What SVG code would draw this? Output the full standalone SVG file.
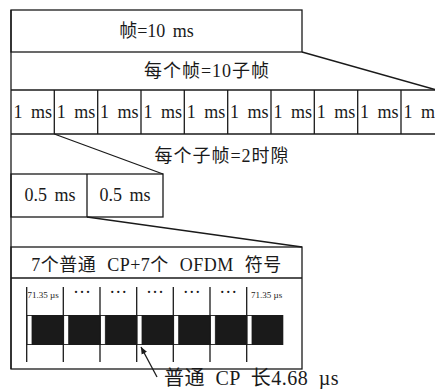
<svg xmlns="http://www.w3.org/2000/svg" width="435" height="389" viewBox="0 0 435 389">
<style>
.ln{stroke:#1a1a1a;stroke-width:1.3;fill:none}
.t{font-family:"Liberation Serif","Noto Sans CJK SC",serif;fill:#1a1a1a;text-anchor:middle}
.big{font-size:18px;word-spacing:3px}
.sm{font-size:9px}
</style>
<defs>
<marker id="ah" markerWidth="8" markerHeight="8" refX="7" refY="4" orient="auto" markerUnits="userSpaceOnUse">
<path d="M0,1 L7,4 L0,7 Z" fill="#1a1a1a"/>
</marker>
</defs>
<rect width="435" height="389" fill="#fff"/>
<g id="frame">
<rect class="ln" x="11" y="10" width="291" height="42"/>
<text class="t big" x="156.5" y="37">帧=10 ms</text>
</g>
<g id="subframes-label">
<text class="t big" x="207" y="77" letter-spacing="1">每个帧=10子帧</text>
</g>
<g id="subframes">
<line class="ln" x1="11" y1="90" x2="435" y2="90"/>
<line class="ln" x1="11" y1="134" x2="435" y2="134"/>
<g class="ln">
<line x1="54.3" y1="90" x2="54.3" y2="134"/>
<line x1="97.7" y1="90" x2="97.7" y2="134"/>
<line x1="141" y1="90" x2="141" y2="134"/>
<line x1="184.3" y1="90" x2="184.3" y2="134"/>
<line x1="227.7" y1="90" x2="227.7" y2="134"/>
<line x1="271" y1="90" x2="271" y2="134"/>
<line x1="314.3" y1="90" x2="314.3" y2="134"/>
<line x1="357.7" y1="90" x2="357.7" y2="134"/>
<line x1="401" y1="90" x2="401" y2="134"/>
</g>
<g class="t big" style="word-spacing:4px">
<text x="32.7" y="118">1 ms</text>
<text x="76" y="118">1 ms</text>
<text x="119.3" y="118">1 ms</text>
<text x="162.7" y="118">1 ms</text>
<text x="206" y="118">1 ms</text>
<text x="249.3" y="118">1 ms</text>
<text x="292.7" y="118">1 ms</text>
<text x="336" y="118">1 ms</text>
<text x="379.3" y="118">1 ms</text>
<text x="422.7" y="118">1 ms</text>
</g>
</g>
<g id="slots-label">
<text class="t big" x="222" y="162" letter-spacing="1">每个子帧=2时隙</text>
</g>
<g id="slots">
<rect class="ln" x="11" y="174" width="152" height="43"/>
<line class="ln" x1="87" y1="174" x2="87" y2="217"/>
<text class="t big" x="50" y="201">0.5 ms</text>
<text class="t big" x="125" y="201">0.5 ms</text>
</g>
<g id="symbols">
<rect class="ln" x="11" y="247" width="291" height="122"/>
<line class="ln" x1="11" y1="278" x2="302" y2="278"/>
<text class="t big" x="156.5" y="271" style="word-spacing:6px" letter-spacing="0.5">7个普通 CP+7个 OFDM 符号</text>
<rect x="26.7" y="315" width="256.6" height="30" fill="#1a1a1a"/>
<g fill="#fff" stroke="#1a1a1a" stroke-width="0.8">
<rect x="27" y="315.5" width="5" height="29"/>
<rect x="63.7" y="315.5" width="5" height="29"/>
<rect x="100.3" y="315.5" width="5" height="29"/>
<rect x="137" y="315.5" width="5" height="29"/>
<rect x="173.7" y="315.5" width="5" height="29"/>
<rect x="210.3" y="315.5" width="5" height="29"/>
<rect x="247" y="315.5" width="5" height="29"/>
</g>
<g class="ln">
<line x1="26.7" y1="287" x2="26.7" y2="362"/>
<line x1="63.3" y1="287" x2="63.3" y2="362"/>
<line x1="100" y1="287" x2="100" y2="362"/>
<line x1="136.7" y1="287" x2="136.7" y2="362"/>
<line x1="173.3" y1="287" x2="173.3" y2="362"/>
<line x1="210" y1="287" x2="210" y2="362"/>
<line x1="246.7" y1="287" x2="246.7" y2="362"/>
</g>
<text class="t sm" x="27.5" y="298" style="text-anchor:start">71.35 µs</text>
<text class="t sm" x="251" y="298" style="text-anchor:start">71.35 µs</text>
<g class="t big">
<text x="82" y="298">···</text>
<text x="118.3" y="298">···</text>
<text x="155" y="298">···</text>
<text x="191.7" y="298">···</text>
<text x="228.3" y="298">···</text>
</g>
</g>
<g id="cp-label">
<text class="t big" x="164" y="385" style="text-anchor:start;font-size:20px;word-spacing:5px" letter-spacing="0.5">普通 CP 长4.68 µs</text>
</g>
<g id="connectors" class="ln">
<line x1="11" y1="10" x2="11" y2="369"/>
<line x1="302" y1="52" x2="435" y2="89.5"/>
<line x1="54.3" y1="134" x2="163" y2="174"/>
<line x1="87" y1="217" x2="302" y2="247"/>
<line x1="157" y1="377" x2="141" y2="347" marker-end="url(#ah)"/>
</g>
</svg>
